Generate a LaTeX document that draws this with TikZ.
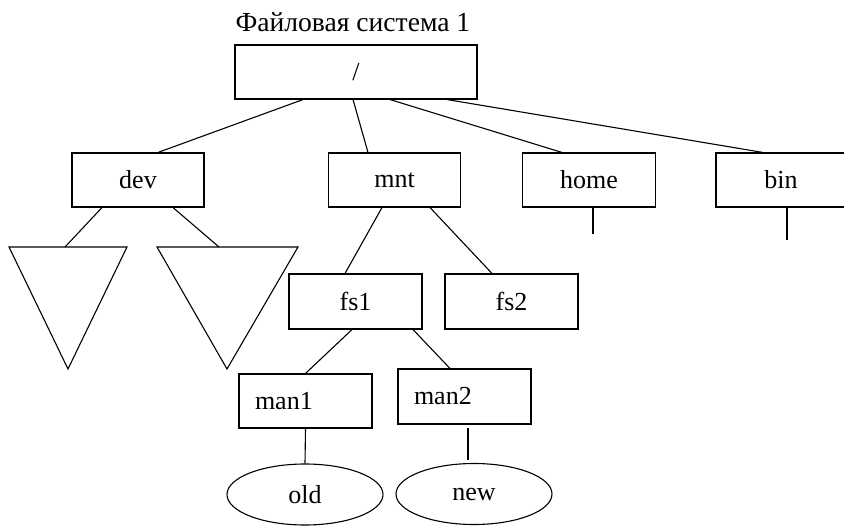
\documentclass[tikz,border=0pt]{standalone}
\usepackage{fontspec}
\setmainfont{Liberation Serif}
\usetikzlibrary{shapes.geometric}
\begin{document}
\begin{tikzpicture}[x=1pt,y=-1pt, line width=1.1pt,
  every node/.style={font=\fontsize{26}{31}\selectfont},
  box/.style={draw, rectangle, minimum height=54pt, minimum width=133pt, inner sep=0pt},
  leftbox/.style={box, text width=101pt, inner xsep=16pt, align=left},
  leaf/.style={draw, ellipse, minimum width=156pt, minimum height=61pt, inner sep=0pt}]
\useasboundingbox (0,0) rectangle (844,527);
\clip (0,0) rectangle (844,527);
% title
\node[anchor=base west, inner sep=0pt, font=\fontsize{27.6}{33}\selectfont] (title) at (235,32) {Файловая система 1};
% boxes
\node[box, minimum width=242pt] (root) at (356,72) {/};
\node[box, minimum width=132pt] (dev) at (138,180) {dev};
\node[box, minimum width=132pt] (mnt) at (394.5,180) {mnt};
\node[box] (home) at (589,180) {home};
\node[box, minimum width=130pt] (bin) at (781,180) {bin};
\node[box, minimum height=55pt] (fs1) at (355.5,301.5) {fs1};
\node[box, minimum height=55pt] (fs2) at (511.5,301.5) {fs2};
\node[leftbox] (man1) at (305.5,401) {man1};
\node[leftbox, minimum height=55pt] (man2) at (464.5,396.5) {man2};
\node[leaf] (old) at (305,494.5) {old};
\node[leaf] (new) at (474,494) {new};
% triangles
\coordinate (t1a) at (9,247);
\coordinate (t1b) at (127,247);
\coordinate (t1c) at (68,369);
\coordinate (t2a) at (157,247);
\coordinate (t2b) at (298,247);
\coordinate (t2c) at (227,369);
\draw (t1a) -- (t1b) -- (t1c) -- cycle;
\draw (t2a) -- (t2b) -- (t2c) -- cycle;
\coordinate (t1top) at (65,247);
\coordinate (t2top) at (219,247);
\coordinate (homeend) at (593,234);
\coordinate (binend) at (787,240);
% connectors
\draw ([xshift=-53pt]root.south) -- ([xshift=20pt]dev.north);
\draw ([xshift=-3pt]root.south) -- ([xshift=-26.5pt]mnt.north);
\draw ([xshift=34pt]root.south) -- ([xshift=-27pt]home.north);
\draw ([xshift=91pt]root.south) -- ([xshift=-18pt]bin.north);
\draw ([xshift=-36pt]dev.south) -- (t1top);
\draw ([xshift=35pt]dev.south) -- (t2top);
\draw ([xshift=-12.5pt]mnt.south) -- ([xshift=-10.5pt]fs1.north);
\draw ([xshift=35.5pt]mnt.south) -- ([xshift=-19.5pt]fs2.north);
\draw ([xshift=4pt]home.south) -- (homeend);
\draw ([xshift=6pt]bin.south) -- (binend);
\draw ([xshift=-3.5pt]fs1.south) -- (man1.north);
\draw ([xshift=57.5pt]fs1.south) -- ([xshift=-14.5pt]man2.north);
\draw (man1.south) -- (old.north);
\draw ([xshift=3.5pt,yshift=-3pt]man2.south) -- ([xshift=-6pt,yshift=3pt]new.north);
\end{tikzpicture}
\end{document}
